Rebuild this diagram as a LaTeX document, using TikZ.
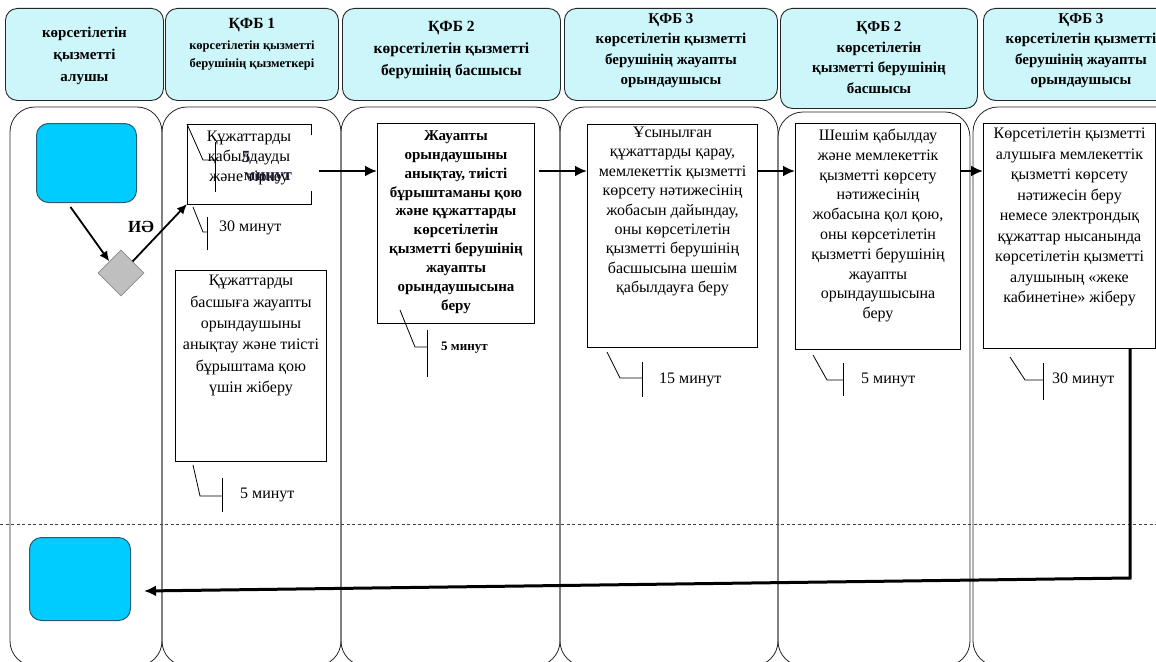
\documentclass[tikz,border=0pt]{standalone}
\usepackage{fontspec}
\setmainfont{Liberation Serif}
\usetikzlibrary{arrows.meta,shapes.geometric,calc}
\definecolor{headcyan}{HTML}{CCF6FA}
\definecolor{startblue}{HTML}{00CCFF}
\definecolor{startedge}{HTML}{2B5D72}
\definecolor{gatefill}{HTML}{BFBFBF}
\definecolor{gateedge}{HTML}{8A8A8A}
\definecolor{stamp}{HTML}{1B1B33}
% box body: width, height, top padding, text
\newcommand\boxbody[4]{\begin{minipage}[t][#2pt][t]{#1pt}\centering\vspace*{#3pt}#4\end{minipage}}
\newcommand\fs[2]{\fontsize{#1pt}{#2pt}\selectfont}

\begin{document}
\begin{tikzpicture}[x=1pt,y=-1pt,
  lane/.style={draw=black!85,line width=0.8pt,rounded corners=25pt},
  head/.style={draw=black!85,line width=0.9pt,rounded corners=12pt,fill=headcyan,inner sep=0pt,anchor=north west,font=\bfseries},
  procbox/.style={draw=black,line width=1pt,fill=white,inner sep=0pt,anchor=north west},
  flow/.style={-{Latex[length=12pt,width=11pt]},line width=2.7pt},
  lightflow/.style={-{Latex[length=10pt,width=9pt]},line width=1.8pt},
  minsline/.style={line width=0.8pt},
  mins/.style={anchor=west,inner sep=0pt,font=\fs{16}{18}},
  terminal/.style={draw=startedge,fill=startblue,rounded corners=12pt,line width=1pt,anchor=north west},
]
\useasboundingbox (0,0) rectangle (1156,661);
\fill[white] (0,0) rectangle (1156,661);
\clip (0,0) rectangle (1156,661);

% swimlanes
\draw[lane] (10,107) rectangle (162,666);
\draw[lane] (162,107) rectangle (341,666);
\draw[lane] (341,107) rectangle (560,666);
\draw[lane] (560,107) rectangle (778,666);
\draw[lane] (778,112) rectangle (970,666);
\draw[lane] (973,107) rectangle (1190,666);
\draw[black!75,line width=0.8pt,dash pattern=on 3pt off 2.5pt] (0,524) -- (1156,524);

% lane headers
\node[head,minimum height=92pt] (h1) at (5,8)
  {\boxbody{158}{92}{19}{\fs{15}{22}көрсетілетін\\қызметті\\алушы}};
\node[head,minimum height=92pt] (h2) at (165,8)
  {\boxbody{173}{92}{10}{{\fs{15.5}{19}ҚФБ 1\par}\fs{12.5}{21}көрсетілетін қызметті\\[-3pt]берушінің қызметкері}};
\node[head,minimum height=92pt] (h3) at (342,8)
  {\boxbody{218}{92}{13}{\fs{15.5}{22}ҚФБ 2\\көрсетілетін қызметті\\берушінің басшысы}};
\node[head,minimum height=92pt] (h4) at (564,8)
  {\boxbody{213}{92}{5}{\fs{15}{20.5}ҚФБ 3\\көрсетілетін қызметті\\берушінің жауапты\\орындаушысы}};
\node[head,minimum height=100pt] (h5) at (780,8)
  {\boxbody{197}{100}{13}{\fs{15}{20.7}ҚФБ 2\\көрсетілетін\\қызметті берушінің\\басшысы}};
\node[head,minimum height=92pt] (h6) at (983,8)
  {\boxbody{195}{92}{5}{\fs{15}{20.5}ҚФБ 3\\көрсетілетін қызметті\\берушінің жауапты\\орындаушысы}};

% start, decision and finish
\node[terminal,minimum width=100pt,minimum height=79pt] (start) at (36,123) {};
\node[diamond,draw=gateedge,fill=gatefill,line width=0.8pt,minimum width=46pt,minimum height=46pt,inner sep=0pt] (gate) at (121,273) {};
\node[terminal,minimum width=101pt,minimum height=83pt] (finish) at (29,537) {};

% process boxes
\node[procbox,draw=none] (b1) at (187,124)
  {\boxbody{123}{79}{7}{\fs{16}{20}Құжаттарды\\қабылдауды\\және тіркеу}};
\draw[line width=1pt] ($(b1.north east)+(0,11)$) -- (b1.north east) -- (b1.north west)
  -- (b1.south west) -- (b1.south east) -- ($(b1.south east)+(0,-13)$);
\node[font=\bfseries\fs{17}{20},text=stamp,inner sep=0pt] (st5) at (246,157) {5};
\node[font=\bfseries\fs{17}{20},text=stamp,inner sep=0pt] (stmin) at (268,178) {минут};

\node[procbox] (b2) at (175,270)
  {\boxbody{151}{191}{5}{\fs{16}{21.3}Құжаттарды\\басшыға жауапты\\орындаушыны\\анықтау және тиісті\\бұрыштама қою\\үшін жіберу}};
\node[procbox] (b3) at (377,123)
  {\boxbody{157}{200}{7}{\bfseries\fs{15}{18.9}Жауапты\\орындаушыны\\анықтау, тиісті\\бұрыштаманы қою\\және құжаттарды\\көрсетілетін\\қызметті берушінің\\жауапты\\орындаушысына\\беру}};
\node[procbox] (b4) at (587,124)
  {\boxbody{170}{223}{2.5}{\fs{16}{19.4}Ұсынылған\\құжаттарды қарау,\\мемлекеттік қызметті\\көрсету нәтижесінің\\жобасын дайындау,\\оны көрсетілетін\\қызметті берушінің\\басшысына шешім\\қабылдауға беру}};
\node[procbox] (b5) at (795,123)
  {\boxbody{165}{226}{5.5}{\fs{16}{19.8}Шешім қабылдау\\және мемлекеттік\\қызметті көрсету\\нәтижесінің\\жобасына қол қою,\\оны көрсетілетін\\қызметті берушінің\\жауапты\\орындаушысына\\беру}};
\node[procbox] (b6) at (983,123)
  {\boxbody{172}{225}{4.5}{\fs{16}{20.5}Көрсетілетін қызметті\\алушыға мемлекеттік\\қызметті көрсету\\нәтижесін беру\\немесе электрондық\\құжаттар нысанында\\көрсетілетін қызметті\\алушының «жеке\\кабинетіне» жіберу}};

% duration marks
\draw[minsline] (b1.north west) -- (203,160) -- (215,160);
\draw[minsline] (215,142) -- (215,192);
\draw[minsline] (193,207) -- (203,232) -- (207,232);
\draw[minsline] (207,217) -- (207,250);
\node[mins] (t1) at (219,228) {30 минут};
\draw[minsline] (193,465) -- (200,496) -- (222,496);
\draw[minsline] (222,478) -- (222,512);
\node[mins] (t2) at (240,495) {5 минут};
\draw[minsline] (400,310) -- (415,347) -- (427,347);
\draw[minsline] (427,330) -- (427,377);
\node[mins,font=\bfseries\fs{13}{15}] (t3) at (441,348) {5 минут};
\draw[minsline] (607,352) -- (620,378) -- (642,378);
\draw[minsline] (642,362) -- (642,397);
\node[mins] (t4) at (659,380) {15 минут};
\draw[minsline] (813,355) -- (827,380) -- (843,380);
\draw[minsline] (843,363) -- (843,396);
\node[mins] (t5) at (861,380) {5 минут};
\draw[minsline] (1010,357) -- (1025,380) -- (1043,380);
\draw[minsline] (1043,363) -- (1043,400);
\node[mins] (t6) at (1052,380) {30 минут};

% flow connectors
\draw[lightflow] ($(start.south)+(-16,4)$) -- (gate.north west);
\draw[lightflow] (gate.north east) -- (b1.south west);
\node[font=\bfseries\fs{17}{20}] (yes) at (141,227) {ИӘ};

\coordinate (lvl) at (0,171);
\draw[flow,shorten <=8pt] (b1.east |- lvl) -- (b3.west |- lvl);
\draw[flow,shorten <=4pt] (b3.east |- lvl) -- (b4.west |- lvl);
\draw[flow] (b4.east |- lvl) -- (b5.west |- lvl);
\draw[flow] (b5.east |- lvl) -- (b6.west |- lvl);

\coordinate (turn) at (1130,578);
\draw[flow,line width=3pt] (b6.south -| turn) -- (turn) -- ($(finish.east)+(13,12)$);
\end{tikzpicture}
\end{document}
